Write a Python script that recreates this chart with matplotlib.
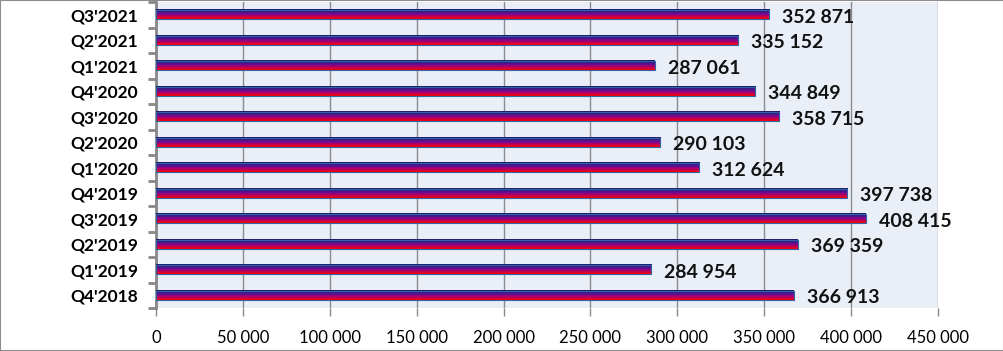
import matplotlib.pyplot as plt
import numpy as np
from matplotlib.colors import LinearSegmentedColormap
from matplotlib.patches import Rectangle

quarters = ["Q4'2018", "Q1'2019", "Q2'2019", "Q3'2019", "Q4'2019", "Q1'2020",
            "Q2'2020", "Q3'2020", "Q4'2020", "Q1'2021", "Q2'2021", "Q3'2021"]
values = [366913, 284954, 369359, 408415, 397738, 312624,
          290103, 358715, 344849, 287061, 335152, 352871]
xticks = [0, 50000, 100000, 150000, 200000, 250000, 300000, 350000, 400000, 450000]


def fmt(v):
    return f"{v:,}".replace(",", " ")


grad = LinearSegmentedColormap.from_list(
    "bar", ["#ff0000", "#d00040", "#980080", "#601090", "#302080", "#1a1a68"])

fig = plt.figure(figsize=(10.04, 3.51), dpi=100)
ax = fig.add_axes([156/1004, 1 - 308/351, 782/1004, 306/351])
ax.set_facecolor("#e9eef7")

h = 0.36
y = np.arange(len(quarters))
g = np.linspace(0, 1, 64).reshape(-1, 1)
for yi, v in zip(y, values):
    ax.imshow(g, cmap=grad, aspect="auto", origin="lower",
              extent=(0, v, yi - h/2, yi + h/2), zorder=3)
    ax.add_patch(Rectangle((0, yi - h/2), v, h, fill=False, edgecolor="#2e64a8",
                           lw=0.8, zorder=4))
    ax.text(v + 7500, yi - 0.1, fmt(v), va="center", ha="left", fontsize=14,
            fontweight="bold", family="Lato", color="#111111", zorder=5)

ax.set_xlim(0, 450000)
ax.set_ylim(-0.5, len(quarters) - 0.5)
ax.set_xticks(xticks)
ax.set_xticklabels([fmt(t) for t in xticks], family="Lato", fontsize=12)
ax.set_yticks(y)
ax.set_yticklabels(quarters, family="Lato", fontweight="bold", fontsize=12.5)
ax.set_yticks(np.arange(-0.5, len(quarters)), minor=True)
ax.tick_params(axis="y", which="major", length=0, pad=13)
ax.tick_params(axis="y", which="minor", length=6, width=2, color="#888888")
ax.tick_params(axis="x", length=6, width=1, color="#888888", pad=10)
ax.xaxis.grid(True, color="#8c8c8c", lw=1)
ax.set_axisbelow(True)
for s in ["top", "right"]:
    ax.spines[s].set_visible(False)
ax.spines["bottom"].set_visible(False)
ax.spines["left"].set_color("#888888")
ax.spines["left"].set_linewidth(2)

fig.patches.append(Rectangle((0, 0), 1, 1, transform=fig.transFigure, fill=False,
                             edgecolor="#8c8c8c", lw=1.5))
fig.savefig("out.png", dpi=100)
